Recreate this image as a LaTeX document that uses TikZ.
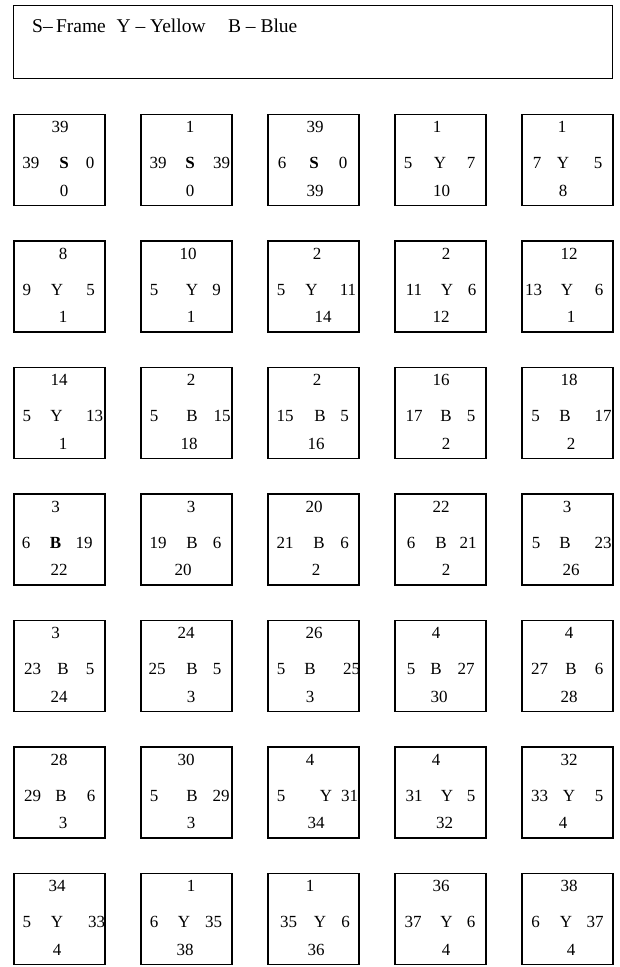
\documentclass[tikz,border=0pt]{standalone}
\usepackage{fontspec}
\setmainfont{Liberation Serif}
\newcommand\cTop{0}
\newcommand\cellframe[3]{\renewcommand\cTop{#3}\node[cellbox] (#1) at (#2+45.5,#3+45.5) {};}
\newcommand\cellmid[7]{%
  \node[lbl] (#1l) at (#2,\cTop+54.25) {#3};
  \node[lbl] (#1m) at (#4,\cTop+54.25) {#5};
  \node[lbl] (#1r) at (#6,\cTop+54.25) {#7};}
\newcommand\celltb[5]{%
  \node[lbl] (#1t) at (#2,\cTop+18.25) {#3};
  \node[lbl] (#1b) at (#4,\cTop+81.75) {#5};}
\begin{document}
\begin{tikzpicture}[x=1pt,y=-1pt,
  cellbox/.style={draw,line width=1.3pt,minimum width=91pt,minimum height=91pt,inner sep=0pt},
  lbl/.style={inner sep=0pt,anchor=base,font=\fontsize{17}{20}\selectfont},
  legend/.style={draw,line width=1.3pt,inner sep=0pt}]
\useasboundingbox (0,0) rectangle (619,967);
\node[legend,minimum width=599pt,minimum height=73pt] (legendbox) at (313,42) {};
\node[anchor=base west,inner sep=0pt,font=\fontsize{19.5}{22}\selectfont] (legendtxt) at (32,32.5) {S--\,Frame\hspace{0.55em}Y -- Yellow\hspace{1.15em}B -- Blue};
% Row 1
\cellframe{c11}{14}{114.5}\celltb{c11}{60}{39}{64}{0}\cellmid{c11}{31}{39}{64}{\textbf{S}}{90}{0}
\cellframe{c12}{141}{114.5}\celltb{c12}{190}{1}{190}{0}\cellmid{c12}{158}{39}{190}{\textbf{S}}{221.5}{39}
\cellframe{c13}{268}{114.5}\celltb{c13}{315}{39}{315}{39}\cellmid{c13}{282}{6}{314}{\textbf{S}}{343}{0}
\cellframe{c14}{395}{114.5}\celltb{c14}{437}{1}{441.5}{10}\cellmid{c14}{408}{5}{440}{Y}{471}{7}
\cellframe{c15}{522}{114.5}\celltb{c15}{562}{1}{563}{8}\cellmid{c15}{537}{7}{563}{Y}{598}{5}
% Row 2
\cellframe{c21}{14}{241}\celltb{c21}{63}{8}{63}{1}\cellmid{c21}{27}{9}{57}{Y}{90.5}{5}
\cellframe{c22}{141}{241}\celltb{c22}{188}{10}{191}{1}\cellmid{c22}{154}{5}{192}{Y}{216.5}{9}
\cellframe{c23}{268}{241}\celltb{c23}{317}{2}{323}{14}\cellmid{c23}{281}{5}{311.5}{Y}{348}{11}
\cellframe{c24}{395}{241}\celltb{c24}{446}{2}{441}{12}\cellmid{c24}{414}{11}{447}{Y}{472}{6}
\cellframe{c25}{522}{241}\celltb{c25}{569}{12}{571}{1}\cellmid{c25}{533.5}{13}{567}{Y}{599}{6}
% Row 3
\cellframe{c31}{14}{367.5}\celltb{c31}{59}{14}{63}{1}\cellmid{c31}{27}{5}{56.5}{Y}{94.5}{13}
\cellframe{c32}{141}{367.5}\celltb{c32}{191}{2}{189}{18}\cellmid{c32}{154}{5}{192}{B}{222}{15}
\cellframe{c33}{268}{367.5}\celltb{c33}{317}{2}{316}{16}\cellmid{c33}{285}{15}{320}{B}{344.5}{5}
\cellframe{c34}{395}{367.5}\celltb{c34}{441}{16}{446}{2}\cellmid{c34}{414}{17}{446}{B}{471}{5}
\cellframe{c35}{522}{367.5}\celltb{c35}{569}{18}{571}{2}\cellmid{c35}{535.5}{5}{565}{B}{603}{17}
% Row 4
\cellframe{c41}{14}{494}\celltb{c41}{55.5}{3}{59}{22}\cellmid{c41}{26}{6}{55.5}{\textbf{B}}{84}{19}
\cellframe{c42}{141}{494}\celltb{c42}{191}{3}{183}{20}\cellmid{c42}{158}{19}{192}{B}{217}{6}
\cellframe{c43}{268}{494}\celltb{c43}{314}{20}{316}{2}\cellmid{c43}{285}{21}{319}{B}{344.5}{6}
\cellframe{c44}{395}{494}\celltb{c44}{441}{22}{446}{2}\cellmid{c44}{411}{6}{441}{B}{468}{21}
\cellframe{c45}{522}{494}\celltb{c45}{567}{3}{571}{26}\cellmid{c45}{536}{5}{565}{B}{603}{23}
% Row 5
\cellframe{c51}{14}{620.5}\celltb{c51}{55.5}{3}{59}{24}\cellmid{c51}{32.5}{23}{63}{B}{90}{5}
\cellframe{c52}{141}{620.5}\celltb{c52}{186}{24}{191}{3}\cellmid{c52}{157}{25}{192}{B}{217}{5}
\cellframe{c53}{268}{620.5}\celltb{c53}{314}{26}{310}{3}\cellmid{c53}{281}{5}{310}{B}{351.5}{25}
\cellframe{c54}{395}{620.5}\celltb{c54}{436}{4}{439}{30}\cellmid{c54}{411}{5}{436}{B}{466}{27}
\cellframe{c55}{522}{620.5}\celltb{c55}{569}{4}{569}{28}\cellmid{c55}{539.5}{27}{571}{B}{599}{6}
% Row 6
\cellframe{c61}{14}{747}\celltb{c61}{59}{28}{63}{3}\cellmid{c61}{32.5}{29}{61}{B}{91}{6}
\cellframe{c62}{141}{747}\celltb{c62}{186}{30}{191}{3}\cellmid{c62}{154}{5}{192}{B}{221}{29}
\cellframe{c63}{268}{747}\celltb{c63}{310}{4}{316}{34}\cellmid{c63}{281}{5}{326}{Y}{349.5}{31}
\cellframe{c64}{395}{747}\celltb{c64}{436}{4}{444.5}{32}\cellmid{c64}{414}{31}{447}{Y}{471}{5}
\cellframe{c65}{522}{747}\celltb{c65}{569}{32}{563}{4}\cellmid{c65}{539.5}{33}{569}{Y}{599}{5}
% Row 7
\cellframe{c71}{14}{873.5}\celltb{c71}{57}{34}{57}{4}\cellmid{c71}{27}{5}{57}{Y}{96.5}{33}
\cellframe{c72}{141}{873.5}\celltb{c72}{191}{1}{185}{38}\cellmid{c72}{154}{6}{184}{Y}{213.5}{35}
\cellframe{c73}{268}{873.5}\celltb{c73}{310}{1}{316}{36}\cellmid{c73}{288.5}{35}{320}{Y}{345.5}{6}
\cellframe{c74}{395}{873.5}\celltb{c74}{441}{36}{446}{4}\cellmid{c74}{413}{37}{446.5}{Y}{471}{6}
\cellframe{c75}{522}{873.5}\celltb{c75}{569}{38}{571}{4}\cellmid{c75}{535.5}{6}{566}{Y}{595}{37}
\end{tikzpicture}
\end{document}
